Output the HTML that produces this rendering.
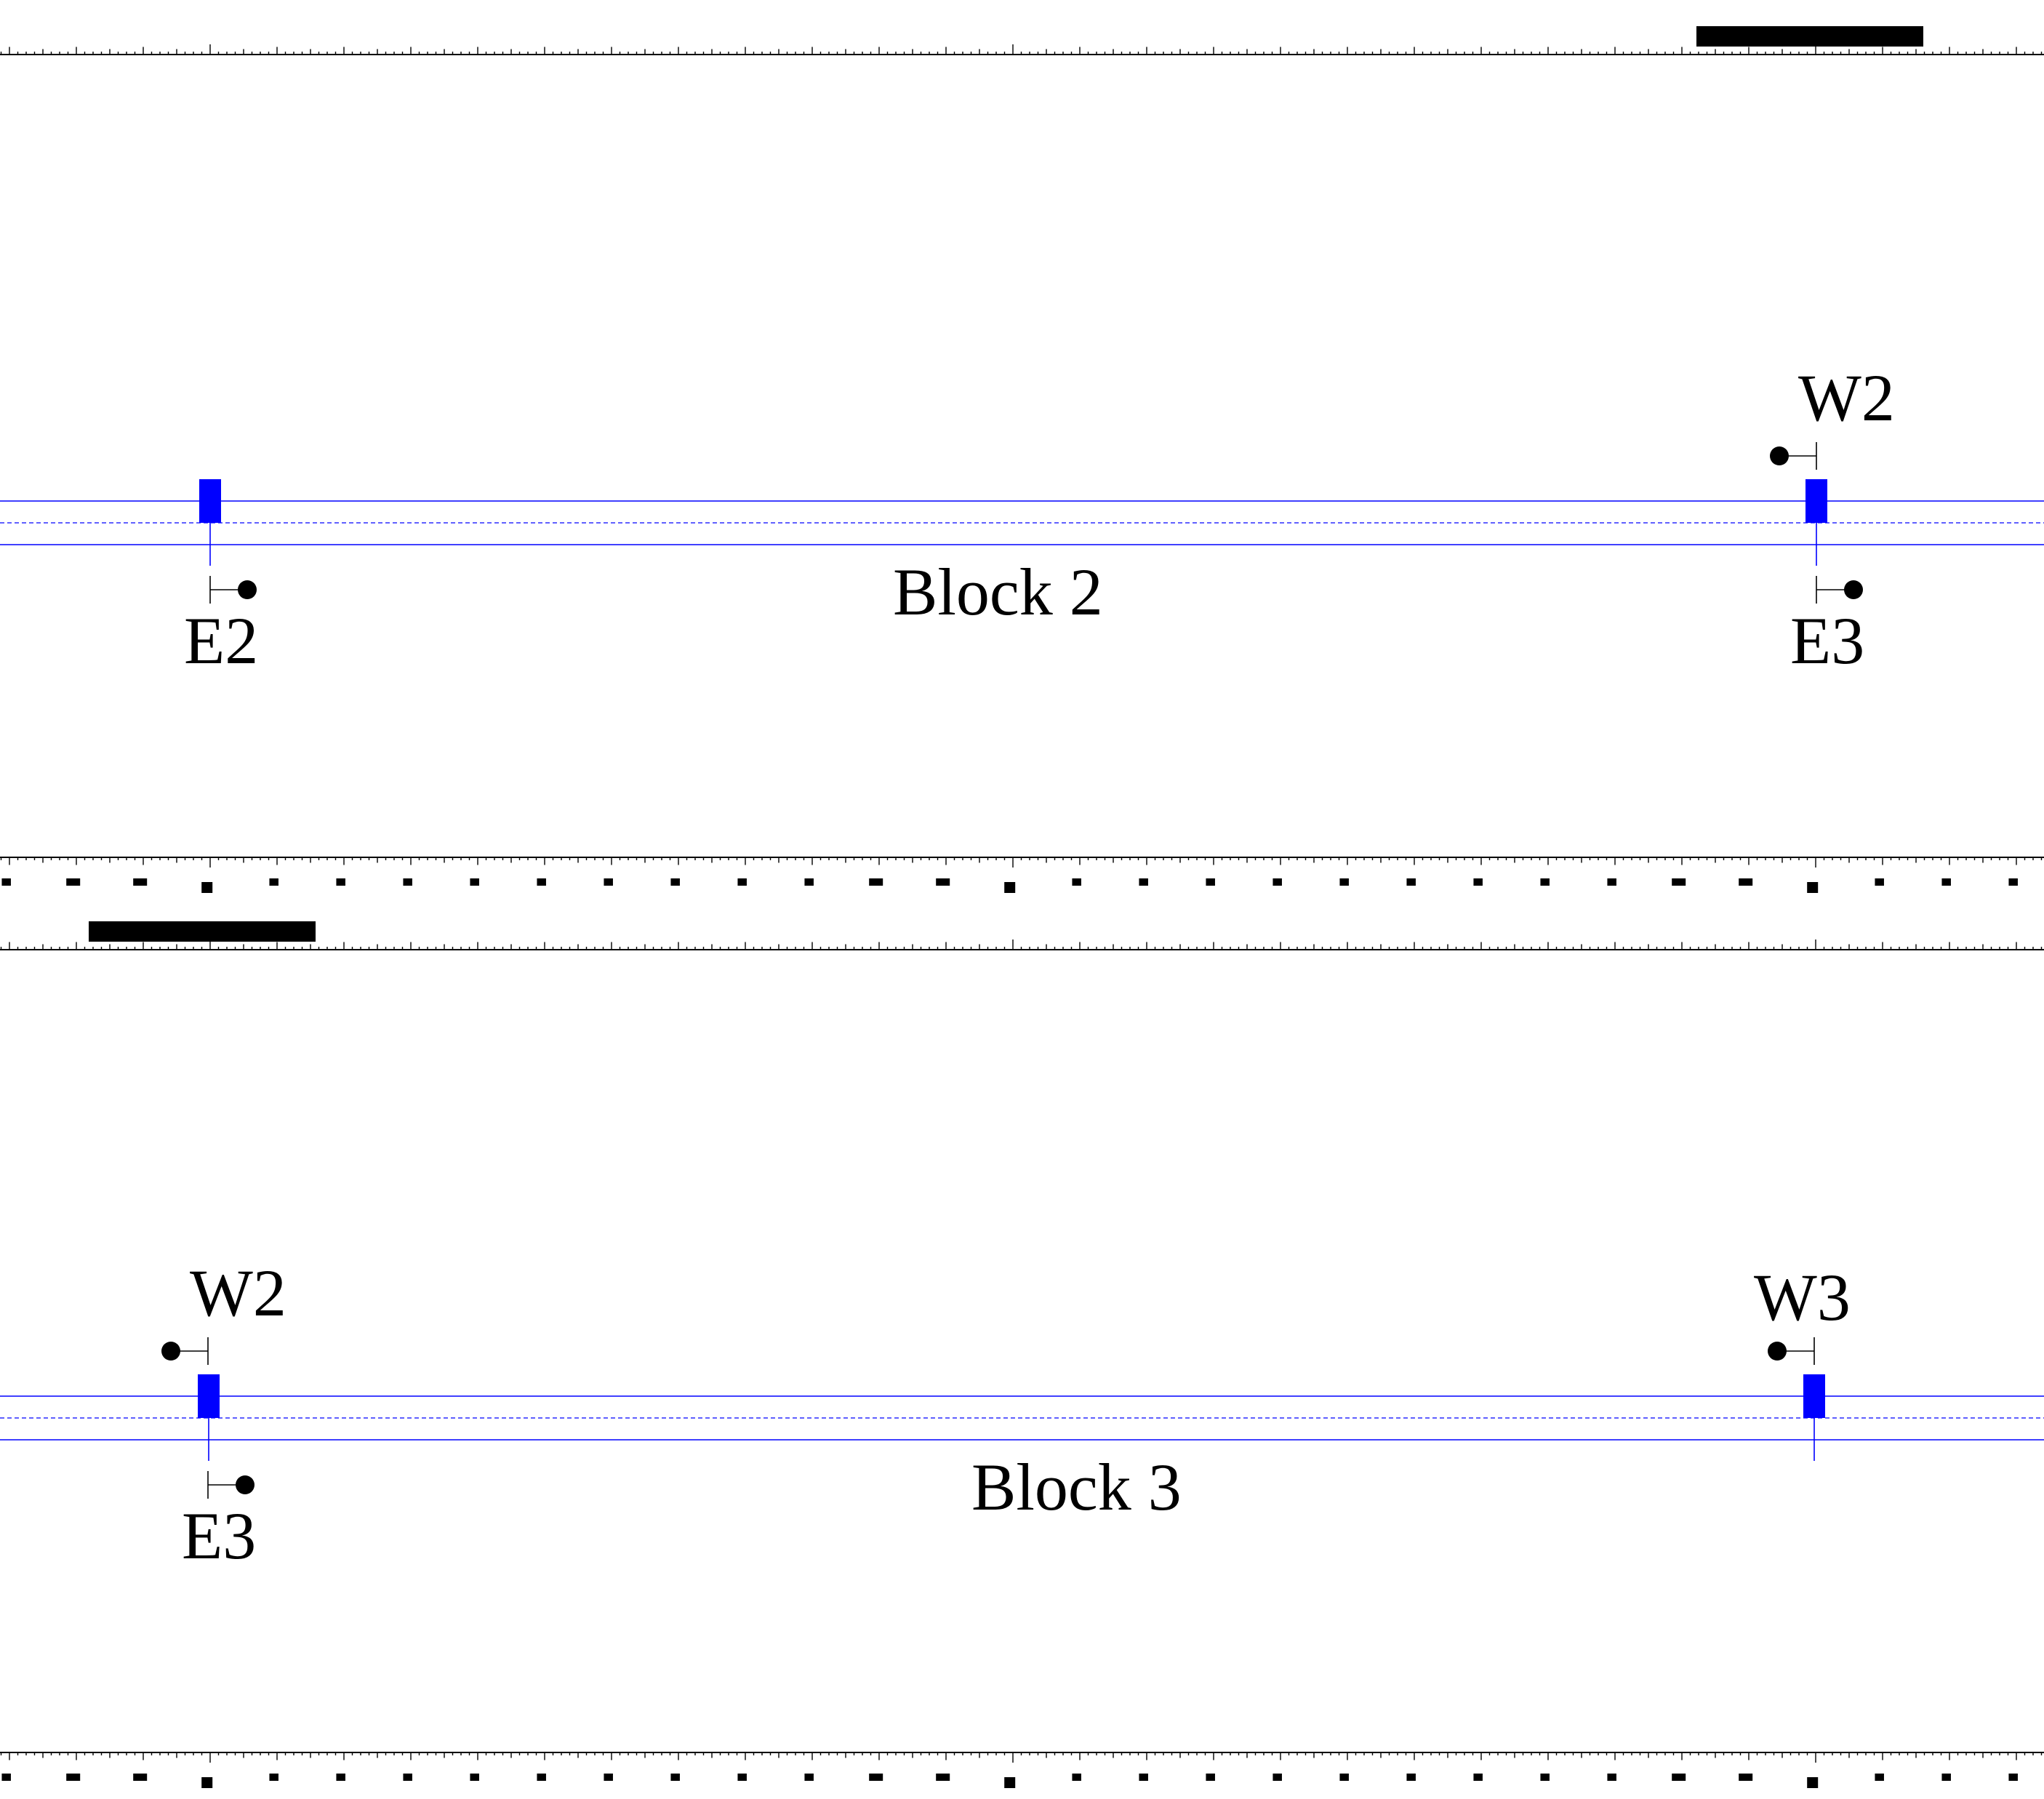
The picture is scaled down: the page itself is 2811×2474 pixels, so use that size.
<!DOCTYPE html>
<html><head><meta charset="utf-8"><style>
html,body{margin:0;padding:0;background:#fff}
svg{display:block}
text{font-family:"Liberation Serif",serif;font-size:92px;fill:#000}
</style></head><body>
<svg id="chart" width="2811" height="2474" viewBox="0 0 2811 2474" xmlns="http://www.w3.org/2000/svg"></svg>
<script>
const blockNames = ["Block 2", "Block 3"];
const blockOffsets = [0, 1231];
const blockLabelX = [1228, 1336];
const boxX = [[274, 2483], [272, 2480]];
const signalsUp = [[{x:2498, label:"W2"}], [{x:286, label:"W2"}, {x:2495, label:"W3"}]];
const signalsDown = [[{x:289, label:"E2"}, {x:2498, label:"E3"}], [{x:286, label:"E3"}]];
const topBars = [[2333, 2645], [122, 434]];
const markerWide = [1, 2, 13, 14, 25, 26];
const markerLow = [3, 15, 27];

const NS = "http://www.w3.org/2000/svg";
const svg = document.getElementById("chart");
function mk(tag, attrs, parent) {
  const e = document.createElementNS(NS, tag);
  for (const k in attrs) e.setAttribute(k, attrs[k]);
  (parent || svg).appendChild(e);
  return e;
}
function ruler(g, y, dir) {
  const l = mk("line", {x1:0, x2:2811, y1:y, y2:y, stroke:"#000", "stroke-width":2}, g);
  
  
  let d = "";
  for (let k = 0; k < 245; k++) {
    const x = 1.5 + 11.5 * k;
    let h = 4;
    if (k % 96 === 25) h = 14; else if (k % 8 === 1) h = 10.5; else if (k % 4 === 1) h = 7.5;
    d += "M" + x + " " + y + "v" + (dir * h);
  }
  const p = mk("path", {d:d, stroke:"#000", "stroke-width":1.4, fill:"none"}, g);
  
  
}
function signal(g, x, y, dir, label, labelX, labelY) {
  const cx = x + dir * 51;
  const s = mk("g", {}, g);
  
  
  mk("line", {x1:x, x2:x, y1:y - 19, y2:y + 19, stroke:"#000", "stroke-width":1.6}, s);
  mk("line", {x1:x, x2:cx, y1:y, y2:y, stroke:"#000", "stroke-width":1.6}, s);
  mk("circle", {cx:cx, cy:y, r:13, fill:"#000"}, s);
  const t = mk("text", {x:labelX, y:labelY}, s);
  t.textContent = label;
  
  
}
blockNames.forEach((name, b) => {
  const o = blockOffsets[b];
  const g = mk("g", {});
  
  
  ruler(g, 75 + o, -1);
  const bar = mk("rect", {x:topBars[b][0], y:36 + o, width:topBars[b][1] - topBars[b][0], height:28, fill:"#000"}, g);
  
  
  ruler(g, 1179 + o, 1);
  for (let i = 0; i < 31; i++) {
    const cx = 8.7 + 92 * i;
    let w = 12.5, h = 10, y = 1208 + o;
    if (markerWide.includes(i)) w = 19;
    if (markerLow.includes(i)) { w = 15; h = 15; y = 1213 + o; }
    const m = mk("rect", {x:cx - w / 2, y:y, width:w, height:h, fill:"#000"}, g);
    
    
  }
  [689, 749].forEach(yy => {
    const l = mk("line", {x1:0, x2:2811, y1:yy + o, y2:yy + o, stroke:"#0000ff", "stroke-width":1.6}, g);
    
    
  });
  const dl = mk("line", {x1:0, x2:2811, y1:719 + o, y2:719 + o, stroke:"#0000ff", "stroke-width":1.3, "stroke-dasharray":"6 4"}, g);
  
  
  boxX[b].forEach(x => {
    const r = mk("rect", {x:x, y:659 + o, width:30, height:60, fill:"#0000ff"}, g);
    
    
    const v = mk("line", {x1:x + 15, x2:x + 15, y1:719 + o, y2:778 + o, stroke:"#0000ff", "stroke-width":1.6}, g);
    
    
  });
  signalsUp[b].forEach(s => signal(g, s.x, 627 + o, -1, s.label, s.x - 25 - (s.label === "W3" ? 58 : 0), 578 + o + (s.label === "W3" ? 6 : 0)));
  signalsDown[b].forEach(s => signal(g, s.x, 811 + o, 1, s.label, s.x - 36, 912 + o));
  const t = mk("text", {x:blockLabelX[b], y:845 + o}, g);
  t.textContent = name;
  
  
});
</script>
</body></html>
